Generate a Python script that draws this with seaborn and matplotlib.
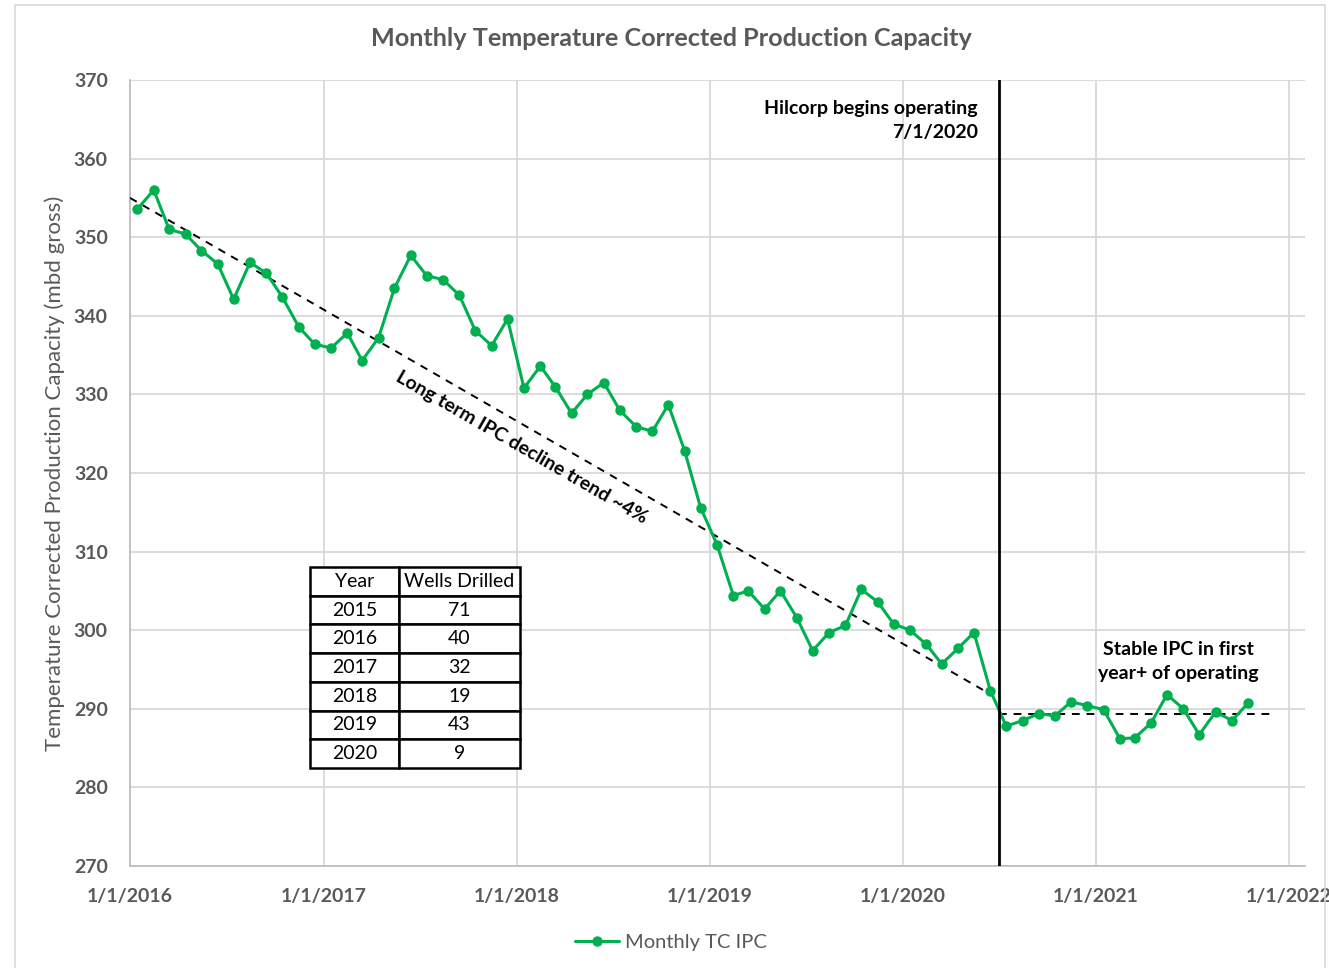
import pandas as pd
import numpy as np
import matplotlib
matplotlib.use('Agg')
import matplotlib.pyplot as plt
import matplotlib.dates as mdates
from matplotlib.patches import Rectangle
import seaborn as sns

# Monthly TC IPC values (mbd gross), Jan 2016 .. Oct 2021, plotted mid-month
months = pd.date_range('2016-01-01', '2021-10-01', freq='MS') + pd.Timedelta(days=14)
ipc = [353.6, 356.0, 351.0, 350.4, 348.3, 346.6, 342.1, 346.8, 345.4, 342.4, 338.6, 336.4,
       335.9, 337.8, 334.3, 337.2, 343.5, 347.7, 345.1, 344.6, 342.6, 338.1, 336.2, 339.6,
       330.8, 333.6, 331.0, 327.6, 330.0, 331.5, 328.0, 325.9, 325.3, 328.7, 322.8, 315.6,
       310.9, 304.4, 305.0, 302.7, 305.0, 301.6, 297.4, 299.7, 300.6, 305.2, 303.6, 300.8,
       300.0, 298.2, 295.7, 297.7, 299.7, 292.3, 287.8, 288.5, 289.4, 289.1, 290.9, 290.4,
       289.9, 286.2, 286.3, 288.2, 291.8, 290.0, 286.7, 289.6, 288.5, 290.7]

# long term decline trend and stable level after Hilcorp start
trend_dates = pd.to_datetime(['2016-01-01', '2020-06-01'])
trend_vals = [355.0, 292.4]
stable_dates = pd.to_datetime(['2020-07-01', '2021-12-01'])
stable_vals = [289.4, 289.4]
hilcorp_date = pd.Timestamp('2020-07-01')

# wells drilled table
tbl_years = ['2015', '2016', '2017', '2018', '2019', '2020']
tbl_wells = ['71', '40', '32', '19', '43', '9']

year_ticks = pd.to_datetime(['2016-01-01', '2017-01-01', '2018-01-01', '2019-01-01',
                             '2020-01-01', '2021-01-01', '2022-01-01'])
y_ticks = list(range(270, 371, 10))

df = pd.DataFrame({'Month': months, 'IPC': ipc})

sns.set_style('white')
plt.rcParams['font.family'] = ['Lato', 'DejaVu Sans']
gray = '#595959'
green = '#00B050'

fig = plt.figure(figsize=(13.29, 9.68), dpi=100)
ax = fig.add_axes([130 / 1329, 1 - 866 / 968, 1175 / 1329, 786 / 968])

sns.lineplot(data=df, x='Month', y='IPC', ax=ax, color=green, linewidth=2.2,
             marker='o', markersize=7.5, markeredgewidth=0, label='Monthly TC IPC', zorder=4)

ax.plot(trend_dates, trend_vals, color='black', linestyle=(0, (4, 3.5)), linewidth=1.4, zorder=3)
ax.plot(stable_dates, stable_vals, color='black', linestyle=(0, (4, 3.5)), linewidth=1.4, zorder=3)
ax.axvline(hilcorp_date, color='black', linewidth=2.0, zorder=5)

ax.set_xlim(pd.Timestamp('2016-01-01'), pd.Timestamp('2022-01-31'))
ax.set_ylim(270, 370)
ax.set_xticks(year_ticks)
ax.xaxis.set_major_formatter(mdates.DateFormatter('%-m/%-d/%Y'))
ax.set_yticks(y_ticks)
ax.grid(True, color='#d9d9d9', linewidth=1.3)
ax.set_axisbelow(True)
for s in ['top', 'right']:
    ax.spines[s].set_visible(False)
for s in ['left', 'bottom']:
    ax.spines[s].set_color('#bfbfbf')
    ax.spines[s].set_linewidth(1.3)
ax.tick_params(axis='both', length=0, labelsize=14, labelcolor=gray)
ax.tick_params(axis='x', pad=16)
ax.tick_params(axis='y', pad=16)
for lab in ax.get_xticklabels() + ax.get_yticklabels():
    lab.set_fontweight('bold')

ax.set_xlabel('')
ax.set_ylabel('Temperature Corrected Production Capacity (mbd gross)', fontsize=16,
              color=gray)
ax.yaxis.set_label_coords(-65 / 1175, 0.5)

fig.text(0.505, 1 - 38 / 968, 'Monthly Temperature Corrected Production Capacity',
         ha='center', va='center', fontsize=18.2, fontweight='bold', color=gray)

ax.text(pd.Timestamp('2018-01-10'), 323.3, 'Long term IPC decline trend ~4%',
        rotation=-30, rotation_mode='anchor', ha='center', va='center',
        fontsize=14, fontweight='bold', color='black')
ax.text(pd.Timestamp('2020-05-22'), 364.8, 'Hilcorp begins operating\n7/1/2020',
        ha='right', va='center', fontsize=14, fontweight='bold', color='black',
        linespacing=1.5)
ax.text(pd.Timestamp('2021-06-05'), 296.0, 'Stable IPC in first\nyear+ of operating',
        ha='center', va='center', fontsize=14, fontweight='bold', color='black',
        linespacing=1.5)

# wells drilled table
cells = [[y, w] for y, w in zip(tbl_years, tbl_wells)]
tb = ax.table(cellText=cells, colLabels=['Year', 'Wells Drilled'], cellLoc='center',
              colWidths=[89 / 210, 121 / 210],
              bbox=[180 / 1175, 98 / 786, 210 / 1175, 201 / 786], zorder=6)
tb.auto_set_font_size(False)
tb.set_fontsize(14)
for (r, c), cell in tb.get_celld().items():
    cell.set_edgecolor('black')
    cell.set_linewidth(1.8)
    cell.set_facecolor('white')
    cell.get_text().set_color('black')

leg = ax.legend(loc='center', bbox_to_anchor=(0.505, 26 / 968), bbox_transform=fig.transFigure,
                frameon=False, fontsize=14.5, handlelength=2.2, handletextpad=0.3)
for t in leg.get_texts():
    t.set_color(gray)

fig.patches.append(Rectangle((15 / 1329, -0.01), 1310 / 1329, 1 - 5 / 968 + 0.01,
                             transform=fig.transFigure, fill=False,
                             edgecolor='#d9d9d9', linewidth=1.2))

fig.savefig('out.png', dpi=100)
plt.close()
